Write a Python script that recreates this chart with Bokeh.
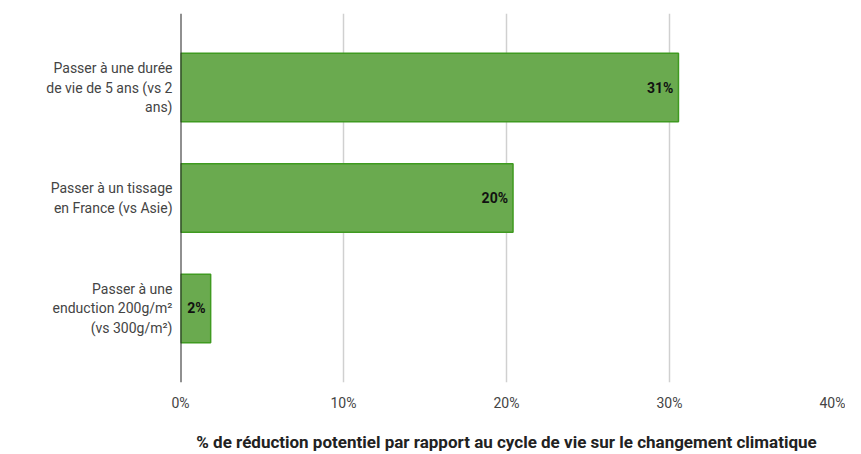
from bokeh.plotting import figure
from bokeh.models import FactorRange, Range1d, FixedTicker, Span, ColumnDataSource
from bokeh.embed import file_html
from bokeh.resources import INLINE
from bokeh.core.properties import value

categories = [
    "Passer à une durée\nde vie de 5 ans (vs 2\nans)",
    "Passer à un tissage\nen France (vs Asie)",
    "Passer à une\nenduction 200g/m²\n(vs 300g/m²)",
]
values = [30.55, 20.4, 1.85]
value_labels = ["31%", "20%", "2%"]
x_ticks = [0, 10, 20, 30, 40]
x_tick_labels = ["0%", "10%", "20%", "30%", "40%"]
x_title = "% de réduction potentiel par rapport au cycle de vie sur le changement climatique"

src = ColumnDataSource(dict(cat=categories, val=values, lab=value_labels))

p = figure(
    width=845, height=454,
    y_range=FactorRange(factors=list(reversed(categories)), range_padding=0.17, range_padding_units="absolute"),
    x_range=Range1d(0, 40),
    output_backend="svg", toolbar_location=None,
    min_border_left=180, min_border_right=13, min_border_top=13, min_border_bottom=68,
)
p.outline_line_color = None
p.background_fill_color = "white"

p.hbar(y="cat", right="val", left=0, height=0.62, source=src,
       fill_color="#6aaa4f", line_color="#3f9a20", line_width=1.5)

p.text(x="val", y="cat", text="lab", source=src, text_align="right", text_baseline="middle",
       x_offset=-5, text_font=value("Roboto"), text_font_style="bold",
       text_font_size="14px", text_color="#111111")

p.add_layout(Span(location=0, dimension="height", line_color="#222222", line_width=2))

p.xaxis.ticker = FixedTicker(ticks=x_ticks)
p.xaxis.major_label_overrides = {t: l for t, l in zip(x_ticks, x_tick_labels)}
p.xaxis.axis_line_color = None
p.xaxis.major_tick_line_color = None
p.xaxis.major_tick_out = 0
p.xaxis.major_tick_in = 0
p.xaxis.minor_tick_line_color = None
p.xaxis.major_label_standoff = 12
p.xaxis.major_label_text_font = "Roboto"
p.xaxis.major_label_text_font_size = "14px"
p.xaxis.major_label_text_color = "#444444"
p.xaxis.axis_label = x_title
p.xaxis.axis_label_standoff = 18
p.xaxis.axis_label_text_font = "Roboto"
p.xaxis.axis_label_text_font_size = "17px"
p.xaxis.axis_label_text_font_style = "bold"
p.xaxis.axis_label_text_color = "#222222"

p.yaxis.axis_line_color = None
p.yaxis.major_tick_line_color = None
p.yaxis.major_tick_out = 0
p.yaxis.major_tick_in = 0
p.yaxis.minor_tick_line_color = None
p.yaxis.major_label_standoff = 8
p.yaxis.major_label_text_font = "Roboto"
p.yaxis.major_label_text_font_size = "14px"
p.yaxis.major_label_text_color = "#444444"
p.yaxis.major_label_text_align = "right"

p.xgrid.grid_line_color = "#d0d0d0"
p.xgrid.grid_line_width = 1.5
p.ygrid.grid_line_color = None

open("out.html", "w").write(file_html(p, INLINE))
